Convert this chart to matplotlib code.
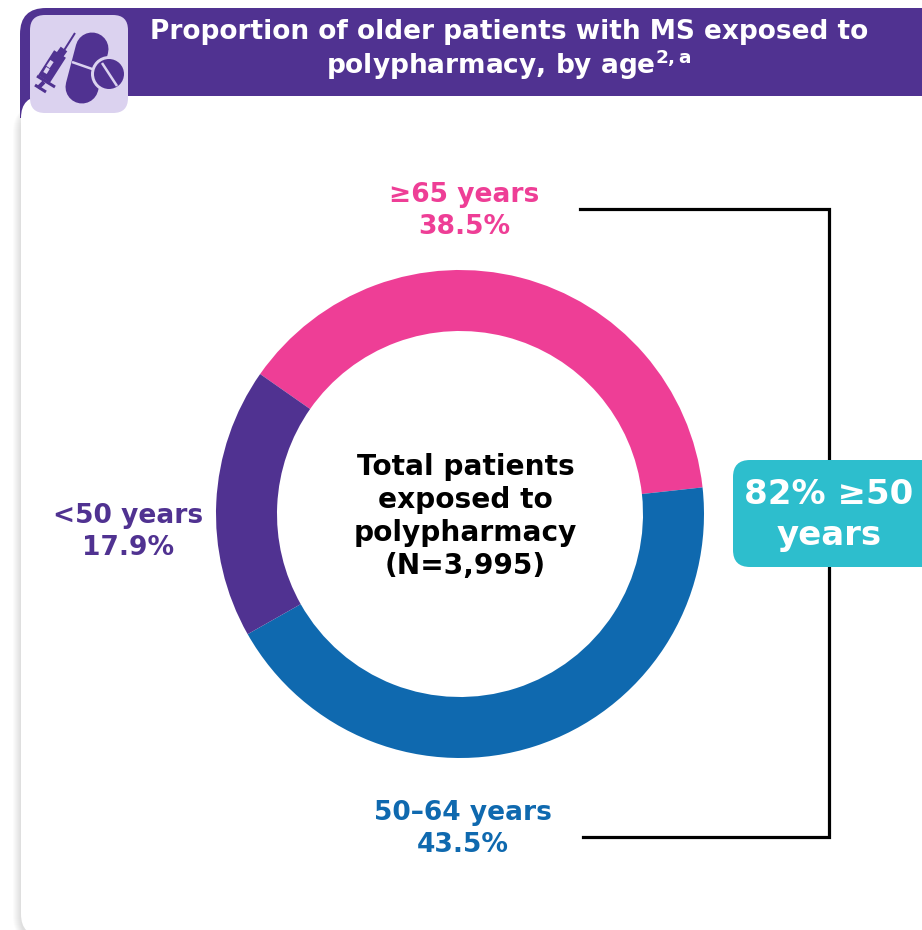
import matplotlib
matplotlib.use("Agg")
from matplotlib import pyplot as plt
from matplotlib.patches import FancyBboxPatch, Circle, Rectangle

# chart data
age_groups = ["\u226565 years", "50\u201364 years", "<50 years"]
shares = [38.5, 43.5, 17.9]
colors = ["#EE3E96", "#0F69AF", "#503291"]

title = "Proportion of older patients with MS exposed to\npolypharmacy, by age$\\mathbf{^{2,a}}$"
center_text = "Total patients\nexposed to\npolypharmacy\n(N=3,995)"
bracket_text = "82% \u226550\nyears"

W, H = 922, 930
PURPLE = "#503291"
LILAC = "#DBD2EF"
TEAL = "#2DBECD"

plt.rcParams['font.family'] = ['DejaVu Sans']

fig = plt.figure(figsize=(W / 100, H / 100), dpi=100)
ax = fig.add_axes([0, 0, 1, 1])


# everything is placed by reading pixels off the image, y from the top
def py(y):
    return H - y


def thick(x, y, lw_px, color, cap='round', z=6):
    ax.plot(x, [py(v) for v in y], color=color, lw=lw_px * 0.72,
            solid_capstyle=cap, zorder=z)


# soft card shadow down the left edge
for i in range(8):
    ax.add_patch(FancyBboxPatch((13 + i, py(942)), 60, 836,
                                boxstyle="round,pad=0,rounding_size=26",
                                fc=(0, 0, 0, 0.014), ec='none', zorder=0))

# header band, the sliver on the left shows past the card's rounded corner
ax.add_patch(FancyBboxPatch((20, py(130)), 1000, 122,
                            boxstyle="round,pad=0,rounding_size=26",
                            fc=PURPLE, ec='none', zorder=1))
ax.add_patch(Rectangle((20, py(118)), 28, 40, fc=PURPLE, ec='none', zorder=1.6))
ax.add_patch(FancyBboxPatch((21, py(936)), 1000, 840,
                            boxstyle="round,pad=0,rounding_size=22",
                            fc='white', ec='none', zorder=2))

# icon
ax.add_patch(FancyBboxPatch((30, py(113)), 98, 98,
                            boxstyle="round,pad=0,rounding_size=15",
                            fc=LILAC, ec='none', zorder=4))
thick([92, 82], [49, 87], 33, PURPLE, z=5)
thick([72, 95], [62, 70], 2.5, LILAC, cap='butt', z=6)
ax.add_patch(Circle((109, py(74)), 18, fc=LILAC, ec='none', zorder=6))
ax.add_patch(Circle((109, py(74)), 15, fc=PURPLE, ec='none', zorder=7))
thick([102, 117], [63, 86], 2.5, LILAC, cap='butt', z=8)
# syringe
thick([75, 63], [33, 52], 2, PURPLE, cap='butt')
thick([64, 59], [49, 56], 8, PURPLE, cap='butt')
thick([60, 44], [54, 79], 14, PURPLE, cap='butt')
thick([52, 48], [61, 67], 4, LILAC, cap='butt', z=7)
thick([48, 45], [68, 73], 4, LILAC, cap='butt', z=7)
thick([37, 55], [76, 87], 3, PURPLE, cap='butt')
thick([44, 38], [82, 88], 4, PURPLE, cap='butt')
thick([35, 46], [85, 92], 3, PURPLE, cap='butt')

ax.text(509, py(50.5), title, color='white', fontsize=19, fontweight='bold',
        ha='center', va='center', linespacing=1.06, zorder=9,
        math_fontfamily='dejavusans')

# bracket
ax.plot([580, 829, 829, 583], [py(209), py(209), py(837), py(837)],
        color='black', lw=2.3, solid_joinstyle='miter', zorder=3)

# donut
ax.pie(shares, colors=colors, startangle=145, counterclock=False,
       radius=244, center=(460, py(514)), frame=True,
       wedgeprops=dict(width=61, linewidth=0), normalize=True)
for w in ax.patches[-3:]:
    w.set_zorder(4)

ax.text(465.5, py(516.5), center_text, color='black', fontsize=20.2,
        fontweight='bold', ha='center', va='center', linespacing=1.23, zorder=9)

# segment labels
label_pos = [(464, 211), (463, 829), (128, 532)]
for name, val, col, pos in zip(age_groups, shares, colors, label_pos):
    ax.text(pos[0], py(pos[1]), f"{name}\n{val}%", color=col, fontsize=19.1,
            fontweight='bold', ha='center', va='center', linespacing=1.27, zorder=9)

# callout box
ax.add_patch(FancyBboxPatch((733, py(567)), 240, 107,
                            boxstyle="round,pad=0,rounding_size=17",
                            fc=TEAL, ec='none', zorder=5))
ax.text(829, py(515), bracket_text, color='white', fontsize=24.5, fontweight='bold',
        ha='center', va='center', linespacing=1.29, zorder=9)

ax.set_xlim(0, W)
ax.set_ylim(0, H)
ax.set_aspect('auto')
ax.axis('off')

fig.savefig("out.png", dpi=100, facecolor='white')
